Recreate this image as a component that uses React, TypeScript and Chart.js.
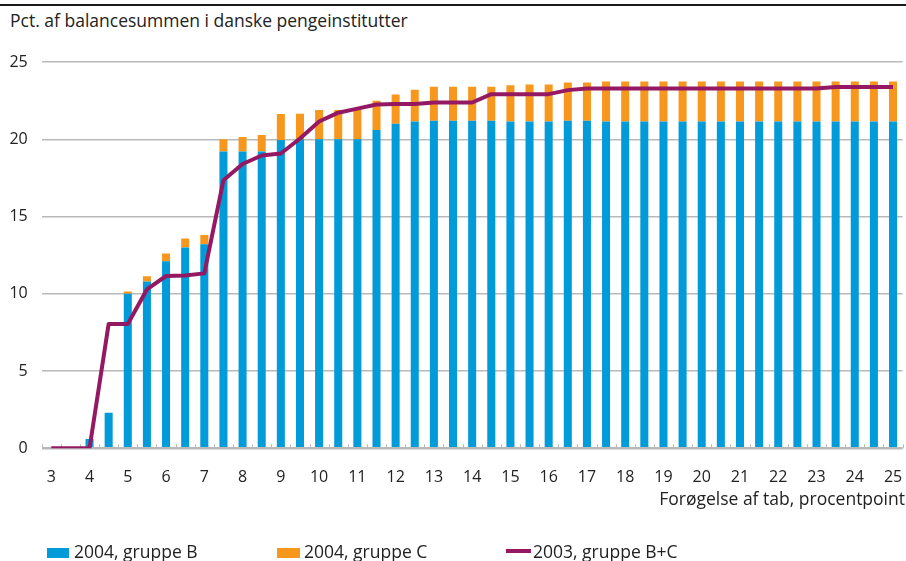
import React, { useEffect, useRef } from "react";
import { Chart, registerables } from "chart.js";

Chart.register(...registerables);

const categories = [
  "3", "3.5", "4", "4.5", "5", "5.5", "6", "6.5", "7", "7.5", "8", "8.5",
  "9", "9.5", "10", "10.5", "11", "11.5", "12", "12.5", "13", "13.5", "14", "14.5",
  "15", "15.5", "16", "16.5", "17", "17.5", "18", "18.5", "19", "19.5", "20", "20.5",
  "21", "21.5", "22", "22.5", "23", "23.5", "24", "24.5", "25",
];

const tickLabels = [
  "3", "4", "5", "6", "7", "8", "9", "10", "11", "12", "13", "14",
  "15", "16", "17", "18", "19", "20", "21", "22", "23", "24", "25",
];

const gruppeB2004 = [
  0, 0, 0.6, 2.3, 10.0, 10.8, 12.1, 13.0, 13.2, 19.2, 19.2, 19.2,
  19.95, 20.0, 20.0, 20.0, 20.0, 20.6, 21.0, 21.15, 21.2, 21.2, 21.2, 21.2,
  21.15, 21.15, 21.15, 21.2, 21.2, 21.15, 21.15, 21.15, 21.15, 21.15, 21.15, 21.15,
  21.15, 21.15, 21.15, 21.15, 21.15, 21.15, 21.15, 21.15, 21.15,
];

const gruppeC2004 = [
  0, 0, 0, 0, 0.15, 0.33, 0.5, 0.57, 0.6, 0.8, 0.95, 1.07,
  1.68, 1.65, 1.9, 1.9, 1.95, 1.9, 1.9, 2.05, 2.2, 2.2, 2.2, 2.2,
  2.35, 2.4, 2.4, 2.47, 2.47, 2.59, 2.59, 2.59, 2.59, 2.59, 2.59, 2.59,
  2.59, 2.59, 2.59, 2.59, 2.59, 2.59, 2.59, 2.59, 2.59,
];

const gruppeBC2003 = [
  0, 0, 0, 8.05, 8.05, 10.28, 11.15, 11.18, 11.32, 17.35, 18.4, 18.95,
  19.08, 20.05, 21.15, 21.72, 21.98, 22.25, 22.28, 22.28, 22.38, 22.38, 22.38, 22.92,
  22.92, 22.92, 22.92, 23.18, 23.28, 23.28, 23.28, 23.28, 23.28, 23.28, 23.28, 23.28,
  23.28, 23.28, 23.28, 23.28, 23.28, 23.38, 23.38, 23.38, 23.38,
];

const yTicks = [0, 5, 10, 15, 20, 25];

const BLUE = "#009bd8";
const ORANGE = "#f7971e";
const PURPLE = "#951863";
const GRID = "#b9b9b9";
const TEXT = "#222222";
const FONT = "'Open Sans', 'Noto Sans', sans-serif";

const xTickMarks = {
  id: "xTickMarks",
  beforeDatasetsDraw(chart: any) {
    const x = chart.scales.x;
    const area = chart.chartArea;
    const ctx = chart.ctx;
    const n = chart.data.labels.length;
    ctx.save();
    ctx.strokeStyle = GRID;
    ctx.lineWidth = 1;
    for (let i = 0; i <= n; i++) {
      let px: number;
      if (i === 0) px = area.left;
      else if (i === n) px = area.right;
      else px = (x.getPixelForValue(i - 1) + x.getPixelForValue(i)) / 2;
      px = Math.round(px) + 0.5;
      ctx.beginPath();
      ctx.moveTo(px, area.bottom);
      ctx.lineTo(px, area.bottom - 4);
      ctx.stroke();
    }
    ctx.restore();
  },
};

export default function App() {
  const ref = useRef<HTMLCanvasElement | null>(null);

  useEffect(() => {
    if (!ref.current) return;
    const chart = new Chart(ref.current, {
      type: "bar",
      data: {
        labels: categories,
        datasets: [
          {
            type: "line",
            label: "2003, gruppe B+C",
            data: gruppeBC2003,
            borderColor: PURPLE,
            backgroundColor: PURPLE,
            borderWidth: 4,
            pointRadius: 0,
            tension: 0,
            borderJoinStyle: "round",
            stack: "line",
            order: 0,
          } as any,
          {
            type: "bar",
            label: "2004, gruppe B",
            data: gruppeB2004,
            backgroundColor: BLUE,
            stack: "bars",
            order: 1,
            barPercentage: 0.42,
            categoryPercentage: 1,
          },
          {
            type: "bar",
            label: "2004, gruppe C",
            data: gruppeC2004,
            backgroundColor: ORANGE,
            stack: "bars",
            order: 1,
            barPercentage: 0.42,
            categoryPercentage: 1,
          },
        ],
      },
      options: {
        responsive: false,
        animation: false,
        devicePixelRatio: 1,
        layout: { padding: { top: 62, right: 3.4, bottom: 0, left: 0 } },
        plugins: {
          legend: { display: false },
          tooltip: { enabled: false },
          title: { display: false },
        },
        scales: {
          x: {
            type: "category",
            stacked: true,
            offset: true,
            grid: { display: false },
            border: { display: false },
            ticks: {
              autoSkip: false,
              maxRotation: 0,
              minRotation: 0,
              padding: 12,
              color: TEXT,
              font: { family: FONT, size: 16 },
              callback: (_v: any, i: number) =>
                tickLabels.includes(categories[i]) ? categories[i] : "",
            },
            afterFit: (s: any) => {
              s.height = 112.7;
              s.paddingLeft = 0;
              s.paddingRight = 0;
            },
          },
          y: {
            stacked: true,
            min: 0,
            max: 25,
            afterBuildTicks: (s: any) => {
              s.ticks = yTicks.map((v) => ({ value: v }));
            },
            grid: {
              color: GRID,
              lineWidth: (c: any) => (c.tick && c.tick.value === 0 ? 2.5 : 1.5),
              drawTicks: false,
            },
            border: { display: false },
            ticks: {
              padding: 14,
              color: TEXT,
              font: { family: FONT, size: 16 },
            },
            afterFit: (s: any) => {
              s.width = 41.7;
            },
          },
        },
      },
      plugins: [xTickMarks],
    });
    return () => chart.destroy();
  }, []);

  const legendText: React.CSSProperties = {
    position: "absolute",
    top: 542.5,
    fontSize: 17.5,
    lineHeight: "17.5px",
    color: TEXT,
    whiteSpace: "nowrap",
  };

  return (
    <div
      style={{
        position: "fixed",
        left: 0,
        top: 0,
        width: 906,
        height: 561,
        background: "#ffffff",
        fontFamily: FONT,
        overflow: "hidden",
      }}
    >
      <div style={{ position: "absolute", left: 0, top: 4, width: 906, height: 2, background: "#1a1a1a" }} />
      <div
        style={{
          position: "absolute",
          left: 10,
          top: 11.8,
          fontSize: 17.5,
          lineHeight: "17.5px",
          color: TEXT,
          whiteSpace: "nowrap",
        }}
      >
        Pct. af balancesummen i danske pengeinstitutter
      </div>
      <canvas ref={ref} width={906} height={561} style={{ position: "absolute", left: 0, top: 0, width: 906, height: 561 }} />
      <div
        style={{
          position: "absolute",
          right: 1,
          top: 490,
          fontSize: 17.5,
          lineHeight: "17.5px",
          color: TEXT,
          whiteSpace: "nowrap",
        }}
      >
        Forøgelse af tab, procentpoint
      </div>
      <div style={{ position: "absolute", left: 47, top: 548, width: 22, height: 10, background: BLUE }} />
      <div style={{ ...legendText, left: 74 }}>2004, gruppe B</div>
      <div style={{ position: "absolute", left: 277, top: 548, width: 23, height: 10, background: ORANGE }} />
      <div style={{ ...legendText, left: 304 }}>2004, gruppe C</div>
      <div style={{ position: "absolute", left: 506, top: 549, width: 25, height: 4, background: PURPLE }} />
      <div style={{ ...legendText, left: 533 }}>2003, gruppe B+C</div>
    </div>
  );
}
